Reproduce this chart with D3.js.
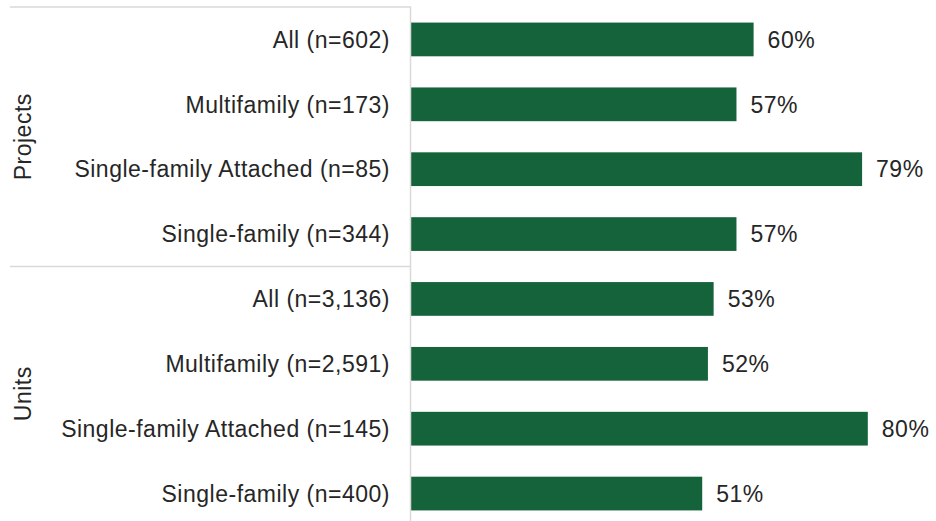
<!DOCTYPE html>
<html>
<head>
<meta charset="utf-8">
<script src="https://cdn.jsdelivr.net/npm/d3@7"></script>
<style>
  body { margin: 0; background: #fff; }
  text { font-family: "Liberation Sans", Arial, sans-serif; fill: #262626; font-size: 23px; letter-spacing: 0.5px; }
</style>
</head>
<body>
<div id="chart"></div>
<script>
// data
const groups = ["Projects", "Units"];
const categories = [
  "All (n=602)", "Multifamily (n=173)", "Single-family Attached (n=85)", "Single-family (n=344)",
  "All (n=3,136)", "Multifamily (n=2,591)", "Single-family Attached (n=145)", "Single-family (n=400)"
];
const categoryGroup = ["Projects", "Projects", "Projects", "Projects", "Units", "Units", "Units", "Units"];
const values = [0.60, 0.57, 0.79, 0.57, 0.53, 0.52, 0.80, 0.51];

const width = 936, height = 521;
const axisX = 411;

const svg = d3.select("#chart")
  .append("svg")
    .attr("width", width)
    .attr("height", height);

const rows = categories.map((c, i) => ({key: i, label: c, group: categoryGroup[i], value: values[i]}));

const y = d3.scaleBand()
  .domain(rows.map(d => d.key))
  .range([7, 526])
  .paddingInner(0.48)
  .paddingOuter(0.24);

const x = d3.scaleLinear()
  .domain([0, 1])
  .range([axisX, axisX + 571]);

// bars
svg.append("g")
  .selectAll("rect")
  .data(rows)
  .join("rect")
    .attr("x", x(0))
    .attr("y", d => y(d.key))
    .attr("width", d => x(d.value) - x(0))
    .attr("height", y.bandwidth())
    .attr("fill", "#15633a");

// value labels
svg.append("g")
  .selectAll("text")
  .data(rows)
  .join("text")
    .attr("x", d => x(d.value) + 14)
    .attr("y", d => y(d.key) + y.bandwidth() / 2)
    .attr("dy", "0.36em")
    .text(d => d3.format(".0%")(d.value));

// category labels
svg.append("g")
  .selectAll("text")
  .data(rows)
  .join("text")
    .attr("x", axisX - 21)
    .attr("y", d => y(d.key) + y.bandwidth() / 2)
    .attr("dy", "0.36em")
    .attr("text-anchor", "end")
    .text(d => d.label);

// axis line + group separators
const lineColor = "#d9d9d9";
svg.append("line").attr("x1", axisX - 0.5).attr("x2", axisX - 0.5).attr("y1", 7).attr("y2", height)
  .attr("stroke", lineColor).attr("stroke-width", 1.5);

const step = y.step();
const groupBounds = groups.map(g => {
  const keys = rows.filter(d => d.group === g).map(d => d.key);
  const top = g === groups[0] ? 7 : y(keys[0]) - (step - y.bandwidth()) / 2;
  const bottom = y(keys[keys.length - 1]) + y.bandwidth() + (step - y.bandwidth()) / 2;
  return {group: g, top: top, bottom: Math.min(bottom, height)};
});

svg.append("line").attr("x1", 10).attr("x2", axisX).attr("y1", 7).attr("y2", 7)
  .attr("stroke", lineColor).attr("stroke-width", 1.5);
svg.append("line").attr("x1", 10).attr("x2", axisX).attr("y1", groupBounds[1].top).attr("y2", groupBounds[1].top)
  .attr("stroke", lineColor).attr("stroke-width", 1.5);

// group labels
svg.append("g")
  .selectAll("text")
  .data(groupBounds)
  .join("text")
    .attr("transform", d => `translate(31,${(d.top + d.bottom) / 2})rotate(-90)`)
    .attr("text-anchor", "middle")
    .text(d => d.group);
</script>
</body>
</html>
